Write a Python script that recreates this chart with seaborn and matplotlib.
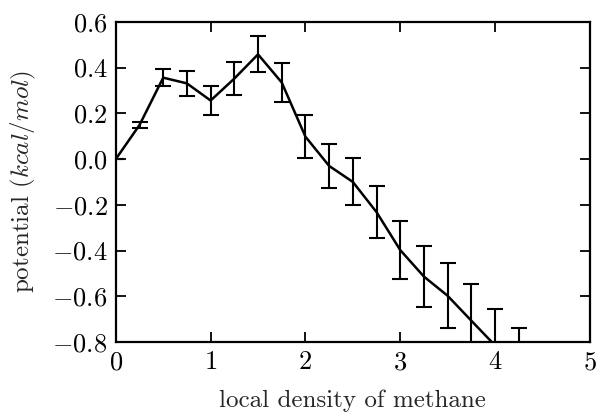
import numpy as np
import pandas as pd
import seaborn as sns
import matplotlib
matplotlib.use("Agg")
import matplotlib.pyplot as plt

# Local density of methane and the potential with its uncertainty
density = [0.0, 0.25, 0.5, 0.75, 1.0, 1.25, 1.5, 1.75, 2.0, 2.25,
           2.5, 2.75, 3.0, 3.25, 3.5, 3.75, 4.0, 4.25]
potential = [0.0, 0.149, 0.356, 0.331, 0.256, 0.352, 0.458, 0.335, 0.098, -0.030,
             -0.100, -0.232, -0.398, -0.514, -0.598, -0.707, -0.815, -0.905]
error = [0.0, 0.013, 0.038, 0.055, 0.064, 0.071, 0.079, 0.087, 0.093, 0.097,
         0.103, 0.113, 0.126, 0.134, 0.142, 0.160, 0.160, 0.165]

xticks = [0, 1, 2, 3, 4, 5]
yticks = [-0.8, -0.6, -0.4, -0.2, 0.0, 0.2, 0.4, 0.6]

sns.set_style("ticks")
plt.rcParams.update({
    "font.family": "serif",
    "font.serif": ["cmr10"],
    "mathtext.fontset": "cm",
    "axes.formatter.use_mathtext": True,
    "axes.unicode_minus": True,
})

df = pd.DataFrame({"density": density, "potential": potential, "error": error})

fig = plt.figure(figsize=(5.97, 4.13), dpi=100)
ax = fig.add_axes([0.194, 0.172, 0.794, 0.775])

sns.lineplot(data=df, x="density", y="potential", ax=ax, color="black",
             linewidth=1.8, errorbar=None)
ax.errorbar(df["density"], df["potential"], yerr=df["error"], fmt="none",
            ecolor="black", elinewidth=1.5, capsize=5.5, capthick=1.5)

ax.set_xlim(0, 5)
ax.set_ylim(-0.8, 0.6)
ax.set_xticks(xticks)
ax.set_yticks(yticks)
ax.xaxis.set_major_formatter(matplotlib.ticker.FuncFormatter(lambda v, p: r"$%d$" % v))
ax.yaxis.set_major_formatter(matplotlib.ticker.FuncFormatter(lambda v, p: r"$%.1f$" % v))

ax.tick_params(direction="in", length=7, width=1.3, top=True, right=True,
               labelsize=19, pad=6, colors="black")
for s in ax.spines.values():
    s.set_linewidth(1.6)
    s.set_color("black")

ax.set_xlabel("local density of methane", fontsize=18, labelpad=11)
ax.set_ylabel(r"potential $(kcal/mol)$", fontsize=18, labelpad=10)

fig.savefig("out.png", dpi=100)
